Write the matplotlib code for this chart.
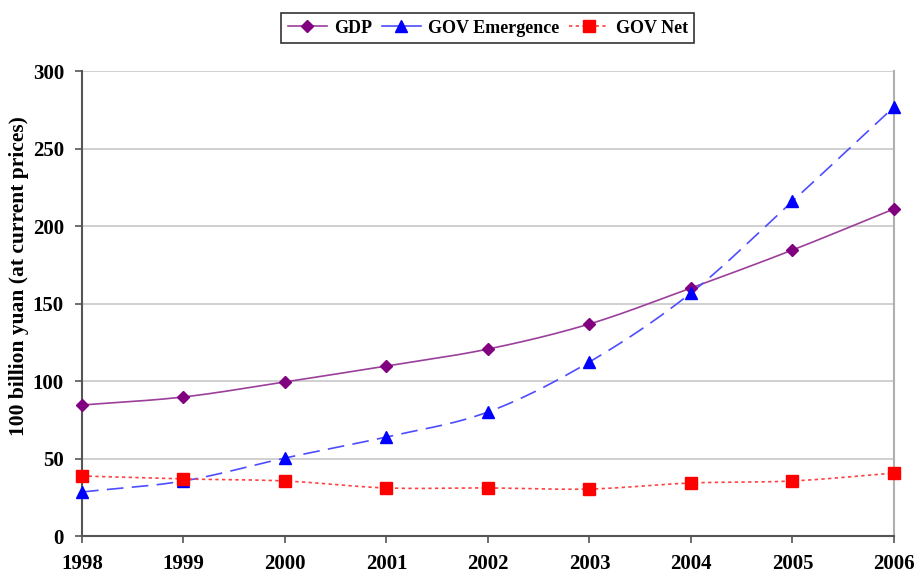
import numpy as np
import matplotlib
matplotlib.use("Agg")
import matplotlib.pyplot as plt
from matplotlib.lines import Line2D

years = [1998, 1999, 2000, 2001, 2002, 2003, 2004, 2005, 2006]
gdp = [84.5, 89.7, 99.4, 109.7, 120.6, 136.8, 160.0, 184.5, 211.0]
gov_emergence = [28.4, 35.5, 50.3, 63.9, 80.0, 112.3, 156.8, 216.0, 276.8]
gov_net = [38.7, 36.8, 35.5, 31.0, 31.0, 30.3, 34.2, 35.5, 40.6]
yticks = [0, 50, 100, 150, 200, 250, 300]


def smooth(x, y, n=20):
    # Catmull-Rom style smoothing (like Excel "smoothed line")
    x = np.asarray(x, float); y = np.asarray(y, float)
    px = np.concatenate([[2 * x[0] - x[1]], x, [2 * x[-1] - x[-2]]])
    py = np.concatenate([[2 * y[0] - y[1]], y, [2 * y[-1] - y[-2]]])
    xs, ys = [], []
    t = np.linspace(0, 1, n, endpoint=False)
    for i in range(1, len(px) - 2):
        p0, p1, p2, p3 = [np.array([px[j], py[j]]) for j in range(i - 1, i + 3)]
        m1 = (p2 - p0) / 6.0
        m2 = (p3 - p1) / 6.0
        for tt in t:
            h00 = 2 * tt**3 - 3 * tt**2 + 1
            h10 = tt**3 - 2 * tt**2 + tt
            h01 = -2 * tt**3 + 3 * tt**2
            h11 = tt**3 - tt**2
            pt = h00 * p1 + h10 * 3 * m1 + h01 * p2 + h11 * 3 * m2
            xs.append(pt[0]); ys.append(pt[1])
    xs.append(x[-1]); ys.append(y[-1])
    return np.array(xs), np.array(ys)


plt.rcParams['font.family'] = ['Liberation Serif', 'DejaVu Serif']
plt.rcParams['font.weight'] = 'bold'

fig = plt.figure(figsize=(9.15, 5.74), dpi=100)
ax = fig.add_axes([0.0896, 0.0662, 0.8874, 0.8101])

gdp_c = '#800080'
gdp_l = '#9b3f9b'
em_c = '#0000ff'
em_l = '#4d4dff'
net_c = '#ff0000'
net_l = '#ff4040'

sx, sy = smooth(years, gdp)
ax.plot(sx, sy, color=gdp_l, lw=1.2, zorder=3)
ax.plot(years, gdp, ls='none', marker='D', ms=6, color=gdp_c, zorder=4, clip_on=False)

sx, sy = smooth(years, gov_emergence)
ax.plot(sx, sy, color=em_l, lw=1.2, dashes=(10, 5), zorder=3)
ax.plot(years, gov_emergence, ls='none', marker='^', ms=8, color=em_c, zorder=4, clip_on=False)

sx, sy = smooth(years, gov_net)
ax.plot(sx, sy, color=net_l, lw=1.2, dashes=(2, 2), zorder=3)
ax.plot(years, gov_net, ls='none', marker='s', ms=8, color=net_c, zorder=4, clip_on=False)

ax.set_xlim(years[0], years[-1])
ax.set_ylim(0, 300)
ax.set_yticks(yticks)
ax.set_xticks(years)
ax.set_xticklabels([str(y) for y in years], fontsize=15, fontweight='bold')
ax.set_yticklabels([str(v) for v in yticks], fontsize=15, fontweight='bold')
ax.yaxis.grid(True, color='#c8c8c8', lw=1.2)
ax.set_axisbelow(True)
ax.tick_params(axis='both', direction='out', length=5, color='#555555', width=1.2)
ax.tick_params(axis='x', pad=8)
ax.tick_params(axis='y', pad=8)
for s in ['left', 'bottom']:
    ax.spines[s].set_color('#555555')
    ax.spines[s].set_linewidth(1.5)
ax.spines['right'].set_color('#b0b0b0')
ax.spines['right'].set_linewidth(1.5)
ax.spines['top'].set_visible(False)
ax.set_ylabel('100 billion yuan (at current prices)', fontsize=15.5, fontweight='bold')
ax.yaxis.set_label_coords(-0.065, 0.56)

handles = [
    Line2D([0], [0], color=gdp_l, lw=1.2, marker='D', ms=6, mfc=gdp_c, mec=gdp_c),
    Line2D([0], [0], color=em_l, lw=1.2, marker='^', ms=8, mfc=em_c, mec=em_c),
    Line2D([0], [0], color=net_l, lw=1.2, ls=(0, (2, 2)), marker='s', ms=8, mfc=net_c, mec=net_c),
]
leg = fig.legend(handles, ['GDP', 'GOV Emergence', 'GOV Net'], loc='center',
                 bbox_to_anchor=(0.533, 0.951), ncol=3, fontsize=13, frameon=True,
                 fancybox=False, edgecolor='black', handlelength=2.2, columnspacing=0.5,
                 handletextpad=0.4, borderpad=0.35, borderaxespad=0)
leg.get_frame().set_linewidth(1.2)
for t in leg.get_texts():
    t.set_fontweight('bold')

fig.savefig('out.png', dpi=100)
